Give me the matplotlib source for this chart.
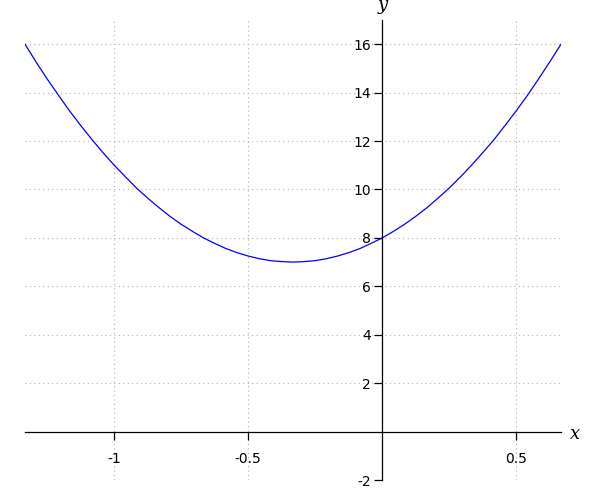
import matplotlib
matplotlib.use("Agg")
import matplotlib.pyplot as plt

plt.rcParams['axes.unicode_minus'] = False

# curve points
x_vals = [-1.333, -1.292, -1.25, -1.208, -1.167, -1.125, -1.083, -1.042, -1.0,
          -0.958, -0.917, -0.875, -0.833, -0.792, -0.75, -0.708, -0.667, -0.625,
          -0.583, -0.542, -0.5, -0.458, -0.417, -0.375, -0.333, -0.292, -0.25,
          -0.208, -0.167, -0.125, -0.083, -0.042, 0.0, 0.042, 0.083, 0.125, 0.167,
          0.208, 0.25, 0.292, 0.333, 0.375, 0.417, 0.458, 0.5, 0.542, 0.583,
          0.625, 0.667]
y_vals = [16.0, 15.27, 14.56, 13.89, 13.25, 12.64, 12.06, 11.52, 11.0,
          10.52, 10.06, 9.64, 9.25, 8.89, 8.56, 8.27, 8.0, 7.77,
          7.56, 7.39, 7.25, 7.14, 7.06, 7.02, 7.0, 7.02, 7.06,
          7.14, 7.25, 7.39, 7.56, 7.77, 8.0, 8.27, 8.56, 8.89, 9.25,
          9.64, 10.06, 10.52, 11.0, 11.52, 12.06, 12.64, 13.25, 13.89, 14.56,
          15.27, 16.0]
x_ticks = [-1, -0.5, 0.5]
x_tick_labels = ['-1', '-0.5', '0.5']
y_ticks = [-2, 2, 4, 6, 8, 10, 12, 14, 16]

fig = plt.figure(figsize=(6, 5), dpi=100)
ax = fig.add_axes([25/600, 0.04, 536/600, 0.92])
ax.plot(x_vals, y_vals, color='blue', lw=0.9)

ax.set_xlim(-1.333, 0.667)
ax.set_ylim(-2, 17)

# axes crossing at origin
ax.spines['left'].set_position(('data', 0))
ax.spines['bottom'].set_position(('data', 0))
ax.spines['right'].set_visible(False)
ax.spines['top'].set_visible(False)
for s in ('left', 'bottom'):
    ax.spines[s].set_linewidth(0.9)

ax.set_xticks(x_ticks)
ax.set_xticklabels(x_tick_labels)
ax.set_yticks(y_ticks)
ax.tick_params(axis='x', direction='out', length=6, width=0.9, pad=9, labelsize=10)
ax.tick_params(axis='y', direction='out', length=6, width=0.9, pad=2, labelsize=10)

ax.grid(True, linestyle=(0, (1, 3)), color='#b0b0b0', lw=0.8)

ax.text(0.72, -0.1, 'x', fontsize=13, family='DejaVu Serif', style='italic',
        va='center', ha='center', clip_on=False)
ax.text(0, 17.6, 'y', fontsize=13, family='DejaVu Serif', style='italic',
        va='center', ha='center', clip_on=False)

fig.savefig('out.png', dpi=100)
